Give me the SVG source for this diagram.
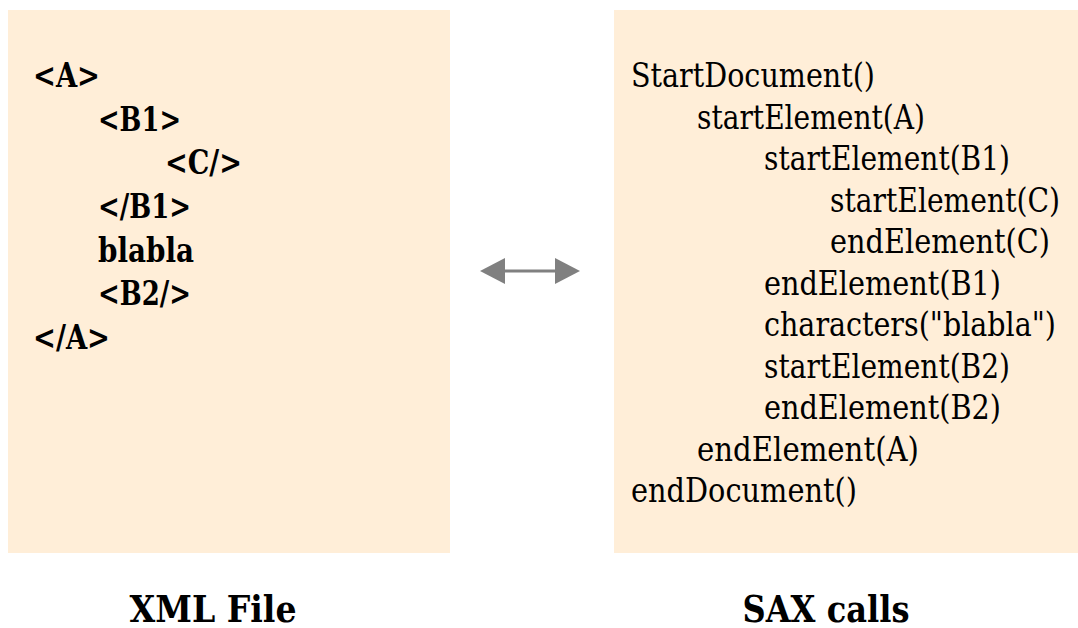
<svg xmlns="http://www.w3.org/2000/svg" width="1078" height="628" viewBox="0 0 1078 628">
  <style>
    .panel { fill: #FFEED8; }
    text { font-family: 'DejaVu Serif', 'Liberation Serif', 'Times New Roman', serif; fill: #000; }
    .xml { font-size: 33px; font-weight: bold; }
    .sax { font-size: 33px; }
    .caption { font-size: 37px; font-weight: bold; text-anchor: middle; }
    .link { stroke: #808080; stroke-width: 3; fill: none; }
  </style>
  <defs>
    <marker id="head" viewBox="0 0 25 26" refX="2" refY="13" markerWidth="25" markerHeight="26" markerUnits="userSpaceOnUse" orient="auto-start-reverse">
      <path d="M0,0 L25,13 L0,26 Z" fill="#808080"/>
    </marker>
  </defs>

  <rect width="1078" height="628" fill="#FFFFFF"/>

  <!-- XML source panel -->
  <g id="xml-file">
    <rect class="panel" x="8" y="10" width="442" height="543"/>
    <text class="xml" x="33" y="87" textLength="67" lengthAdjust="spacingAndGlyphs">&lt;A&gt;</text>
    <text class="xml" x="98" y="130.7" textLength="83" lengthAdjust="spacingAndGlyphs">&lt;B1&gt;</text>
    <text class="xml" x="165" y="174.3" textLength="77" lengthAdjust="spacingAndGlyphs">&lt;C/&gt;</text>
    <text class="xml" x="98" y="218" textLength="93" lengthAdjust="spacingAndGlyphs">&lt;/B1&gt;</text>
    <text class="xml" x="98" y="261.7" textLength="96" lengthAdjust="spacingAndGlyphs">blabla</text>
    <text class="xml" x="98" y="305.3" textLength="93" lengthAdjust="spacingAndGlyphs">&lt;B2/&gt;</text>
    <text class="xml" x="33" y="349" textLength="77" lengthAdjust="spacingAndGlyphs">&lt;/A&gt;</text>
  </g>

  <!-- SAX event panel -->
  <g id="sax-calls">
    <rect class="panel" x="614" y="10" width="464" height="543"/>
    <text class="sax" x="631" y="87" textLength="244" lengthAdjust="spacingAndGlyphs">StartDocument()</text>
    <text class="sax" x="697" y="128.5" textLength="228" lengthAdjust="spacingAndGlyphs">startElement(A)</text>
    <text class="sax" x="764" y="170" textLength="246" lengthAdjust="spacingAndGlyphs">startElement(B1)</text>
    <text class="sax" x="830" y="211.5" textLength="230" lengthAdjust="spacingAndGlyphs">startElement(C)</text>
    <text class="sax" x="830" y="253" textLength="220" lengthAdjust="spacingAndGlyphs">endElement(C)</text>
    <text class="sax" x="764" y="294.5" textLength="237" lengthAdjust="spacingAndGlyphs">endElement(B1)</text>
    <text class="sax" x="764" y="336" textLength="292" lengthAdjust="spacingAndGlyphs">characters("blabla")</text>
    <text class="sax" x="764" y="377.5" textLength="246" lengthAdjust="spacingAndGlyphs">startElement(B2)</text>
    <text class="sax" x="764" y="419" textLength="237" lengthAdjust="spacingAndGlyphs">endElement(B2)</text>
    <text class="sax" x="697" y="460.5" textLength="222" lengthAdjust="spacingAndGlyphs">endElement(A)</text>
    <text class="sax" x="631" y="502" textLength="226" lengthAdjust="spacingAndGlyphs">endDocument()</text>
  </g>

  <!-- two-way correspondence between the panels -->
  <g id="connectors">
    <line class="link" x1="503" y1="271" x2="557" y2="271" marker-start="url(#head)" marker-end="url(#head)"/>
  </g>

  <!-- panel captions -->
  <g id="captions">
    <text class="caption" x="213" y="622" textLength="167" lengthAdjust="spacingAndGlyphs">XML File</text>
    <text class="caption" x="826" y="622" textLength="167" lengthAdjust="spacingAndGlyphs">SAX calls</text>
  </g>
</svg>
